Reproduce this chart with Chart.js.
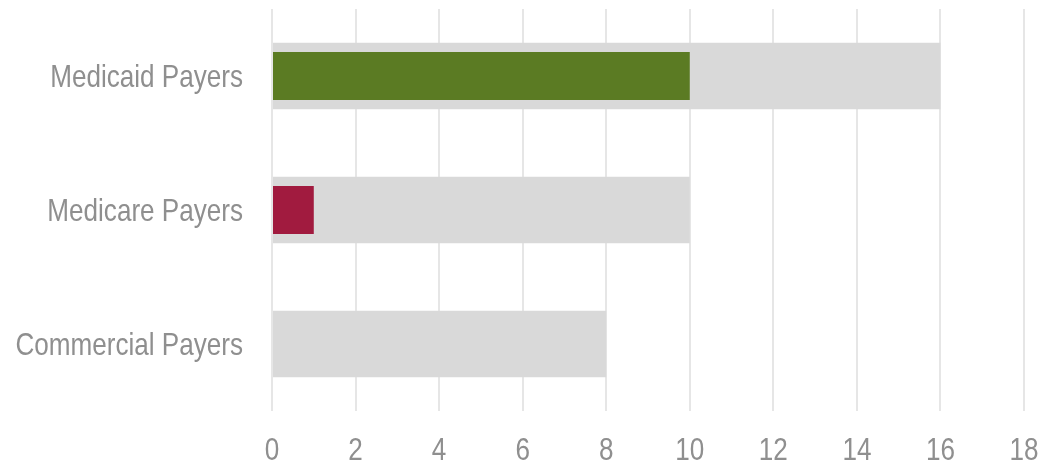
<!DOCTYPE html>
<html>
<head>
<meta charset="utf-8">
<script src="https://cdn.jsdelivr.net/npm/chart.js@4"></script>
<style>
  body { margin: 0; background: #fff; }
  #wrap { width: 1050px; height: 464px; }
</style>
</head>
<body>
<div id="wrap"><canvas id="payerChart"></canvas></div>
<script>
// Categories and values
const categories = ['Medicaid Payers', 'Medicare Payers', 'Commercial Payers'];
const totalValues = [16, 10, 8];      // gray background bars
const highlightValues = [10, 1, 0];   // coloured foreground bars
const highlightColors = ['#5b7b23', '#a11b3f', '#a11b3f'];
const xTicks = [0, 2, 4, 6, 8, 10, 12, 14, 16, 18];

const labelFont = '32px "Liberation Sans Narrow", "Arial Narrow", "Liberation Sans", Arial, sans-serif';
const labelColor = '#8f8f8f';
const squeeze = 0.815;  // no narrow face installed, so condense the regular one

// draws tick labels horizontally condensed, like Arial Narrow
const narrowLabels = {
    id: 'narrowLabels',
    afterDraw(chart) {
        const ctx = chart.ctx;
        const xs = chart.scales.x, ys = chart.scales.y;
        ctx.save();
        ctx.font = labelFont;
        ctx.fillStyle = labelColor;
        ctx.textBaseline = 'alphabetic';

        // category labels, right aligned
        ctx.textAlign = 'right';
        categories.forEach((c, i) => {
            const y = ys.getPixelForValue(i);
            ctx.save();
            ctx.translate(243, y + 11);
            ctx.scale(squeeze, 1);
            ctx.fillText(c, 0, 0);
            ctx.restore();
        });

        // value ticks, centred under grid lines
        ctx.textAlign = 'center';
        xTicks.forEach(v => {
            ctx.save();
            ctx.translate(xs.getPixelForValue(v), 460);
            ctx.scale(squeeze, 1);
            ctx.fillText(String(v), 0, 0);
            ctx.restore();
        });
        ctx.restore();
    }
};

const ctx = document.getElementById('payerChart').getContext('2d');
const chart = new Chart(ctx, {
    type: 'bar',
    data: {
        labels: categories,
        datasets: [
            {
                label: 'Highlight',
                data: highlightValues,
                backgroundColor: highlightColors,
                barPercentage: 0.358,
                categoryPercentage: 1,
                grouped: false,
                order: 0
            },
            {
                label: 'Total',
                data: totalValues,
                backgroundColor: '#d9d9d9',
                barPercentage: 0.497,
                categoryPercentage: 1,
                grouped: false,
                order: 1
            }
        ]
    },
    options: {
        indexAxis: 'y',
        responsive: true,
        maintainAspectRatio: false,
        animation: false,
        layout: { padding: { top: 9, right: 26, left: 0, bottom: 0 } },
        plugins: {
            legend: { display: false },
            tooltip: { enabled: false }
        },
        scales: {
            x: {
                min: 0,
                max: 18,
                afterBuildTicks: (axis) => { axis.ticks = xTicks.map(v => ({ value: v })); },
                afterFit: (axis) => { axis.height = 53; },
                grid: { color: '#e6e6e6', lineWidth: 2, drawTicks: false },
                border: { display: false },
                ticks: { display: false }
            },
            y: {
                afterFit: (axis) => { axis.width = 272; },
                grid: { display: false, drawTicks: false },
                border: { display: false },
                ticks: { display: false }
            }
        }
    },
    plugins: [narrowLabels]
});
</script>
</body>
</html>
